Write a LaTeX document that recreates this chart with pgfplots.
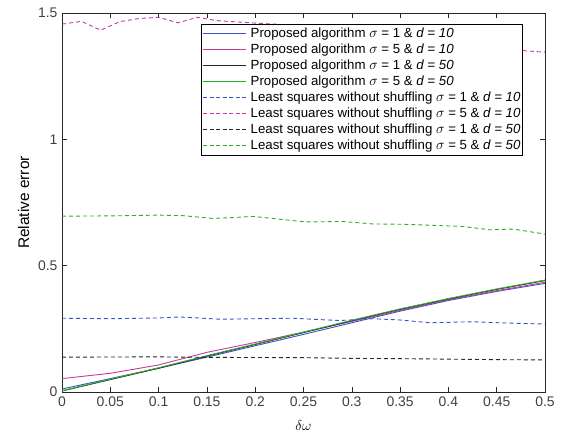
\documentclass[border=0pt]{standalone}
\usepackage{pgfplots}
\pgfplotsset{compat=1.18}
\usepackage{fontspec}
\setmainfont{Liberation Sans}
\definecolor{cblue}{RGB}{55,85,200}
\definecolor{cpink}{RGB}{200,55,165}
\definecolor{cgreen}{RGB}{45,175,35}
\definecolor{cdark}{RGB}{38,38,38}
\definecolor{ctick}{RGB}{64,64,64}
\newcommand\legline[1]{\textcolor{#1}{\rule[0.3em]{43bp}{1.1bp}}\hspace{4.5bp}}
\newcommand\dsh{\rule[0.3em]{4bp}{1.1bp}}
\newcommand\legdash[1]{\textcolor{#1}{\dsh\hspace{2.5bp}\dsh\hspace{2.5bp}\dsh\hspace{2.5bp}\dsh\hspace{2.5bp}\dsh\hspace{2.5bp}\dsh\hspace{2.5bp}\dsh}\hspace{4.5bp}}
\begin{document}
\begin{tikzpicture}
\useasboundingbox (-62bp,-47bp) rectangle (502bp,392bp);
\begin{axis}[
  at={(0,0)}, anchor=south west,
  scale only axis, width=483bp, height=379bp,
  xmin=0, xmax=0.5, ymin=0, ymax=1.5,
  xtick={0,0.05,0.1,0.15,0.2,0.25,0.3,0.35,0.4,0.45,0.5},
  xticklabels={0,0.05,0.1,0.15,0.2,0.25,0.3,0.35,0.4,0.45,0.5},
  ytick={0,0.5,1,1.5},
  yticklabels={0,0.5,1,1.5},
  tick align=inside,
  major tick length=5bp,
  axis line style={cdark, line width=0.6bp},
  every tick/.style={cdark, line width=0.6bp},
  tick label style={font=\fontsize{14}{16}\selectfont, text=ctick},
  xticklabel style={yshift=-1bp},
  yticklabel style={xshift=-1bp},
  xlabel={$\delta\omega$},
  ylabel={Relative error},
  label style={font=\fontsize{15.5}{17}\selectfont},
  xlabel style={yshift=-7bp},
  ylabel style={yshift=2bp},
  legend cell align=left,
  legend image code/.code={},
  legend style={at={(0.2878,0.971)}, anchor=north west,
    font=\fontsize{13.3}{15}\selectfont,
    row sep=0.9bp, inner xsep=1bp, inner ysep=2bp,
    nodes={inner xsep=1bp}},
  every axis plot/.append style={line width=0.9bp},
]
% Proposed algorithm
\addplot[color=cblue] coordinates {(0,0.012)(0.05,0.053)(0.1,0.094)(0.15,0.138)(0.2,0.183)(0.25,0.228)(0.3,0.274)(0.35,0.320)(0.4,0.362)(0.45,0.398)(0.5,0.430)};
\addlegendentry{\legline{cblue}Proposed algorithm $\sigma$ = 1 \& \textit{d = 10}}
\addplot[color=cpink] coordinates {(0,0.053)(0.05,0.074)(0.1,0.107)(0.15,0.157)(0.2,0.196)(0.25,0.237)(0.3,0.279)(0.35,0.323)(0.4,0.365)(0.45,0.401)(0.5,0.434)};
\addlegendentry{\legline{cpink}Proposed algorithm $\sigma$ = 5 \& \textit{d = 10}}
\addplot[color=cdark] coordinates {(0,0.004)(0.05,0.049)(0.1,0.094)(0.15,0.142)(0.2,0.188)(0.25,0.235)(0.3,0.282)(0.35,0.327)(0.4,0.368)(0.45,0.406)(0.5,0.441)};
\addlegendentry{\legline{cdark}Proposed algorithm $\sigma$ = 1 \& \textit{d = 50}}
\addplot[color=cgreen] coordinates {(0,0.005)(0.05,0.051)(0.1,0.096)(0.15,0.144)(0.2,0.190)(0.25,0.237)(0.3,0.284)(0.35,0.329)(0.4,0.370)(0.45,0.408)(0.5,0.443)};
\addlegendentry{\legline{cgreen}Proposed algorithm $\sigma$ = 5 \& \textit{d = 50}}
% Least squares without shuffling
\addplot[color=cblue, dash pattern=on 4bp off 3bp] coordinates {(0,0.292)(0.05,0.290)(0.1,0.293)(0.122,0.297)(0.164,0.288)(0.2,0.290)(0.239,0.292)(0.27,0.286)(0.288,0.283)(0.322,0.290)(0.35,0.285)(0.381,0.274)(0.425,0.278)(0.46,0.273)(0.5,0.269)};
\addlegendentry{\legdash{cblue}Least squares without shuffling $\sigma$ = 1 \& \textit{d = 10}}
\addplot[color=cpink, dash pattern=on 4bp off 3bp] coordinates {(0,1.456)(0.02,1.467)(0.04,1.432)(0.06,1.466)(0.08,1.478)(0.1,1.483)(0.12,1.461)(0.14,1.483)(0.16,1.470)(0.2,1.460)(0.25,1.450)(0.3,1.440)(0.35,1.420)(0.4,1.400)(0.45,1.380)(0.48,1.350)(0.5,1.345)};
\addlegendentry{\legdash{cpink}Least squares without shuffling $\sigma$ = 5 \& \textit{d = 10}}
\addplot[color=cdark, dash pattern=on 4bp off 3bp] coordinates {(0,0.138)(0.1,0.139)(0.15,0.137)(0.25,0.136)(0.3,0.133)(0.35,0.132)(0.4,0.130)(0.45,0.128)(0.5,0.127)};
\addlegendentry{\legdash{cdark}Least squares without shuffling $\sigma$ = 1 \& \textit{d = 50}}
\addplot[color=cgreen, dash pattern=on 4bp off 3bp] coordinates {(0,0.696)(0.05,0.697)(0.1,0.700)(0.125,0.698)(0.156,0.687)(0.175,0.690)(0.198,0.695)(0.22,0.686)(0.253,0.673)(0.29,0.675)(0.322,0.665)(0.35,0.664)(0.374,0.661)(0.415,0.655)(0.443,0.642)(0.467,0.645)(0.5,0.625)};
\addlegendentry{\legdash{cgreen}Least squares without shuffling $\sigma$ = 5 \& \textit{d = 50}}
\end{axis}
\end{tikzpicture}
\end{document}
